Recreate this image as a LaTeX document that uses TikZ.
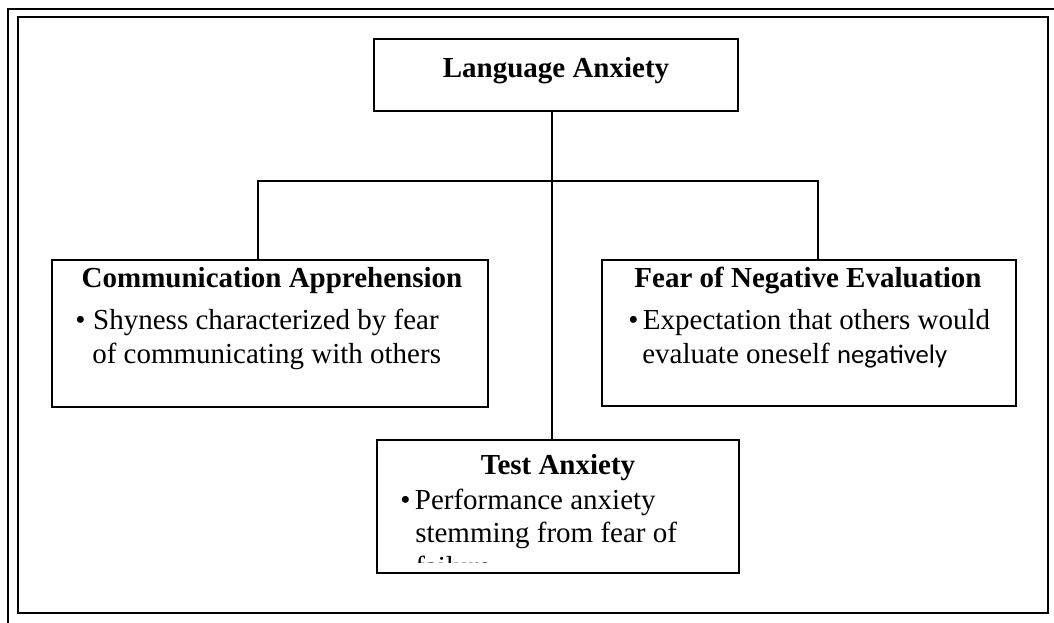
\documentclass[tikz,border=0pt]{standalone}
\usepackage{fontspec}
\setmainfont{Liberation Serif}
\newfontfamily\calib{Carlito}
\begin{document}
\begin{tikzpicture}[x=0.75pt,y=-0.75pt,
  frame/.style={line width=1.2pt,black},
  boxnode/.style={draw,line width=1pt,inner sep=0pt,anchor=center},
  conn/.style={line width=1pt},
  ttl/.style={font=\fontsize{21.75}{26}\selectfont\bfseries,inner sep=0pt,anchor=base},
  body/.style={font=\fontsize{21.75}{26}\selectfont,inner sep=0pt,anchor=base west}]
\useasboundingbox (0,0) rectangle (1054,623);
% outer and inner frames
\draw[frame] (8,623) -- (8,9) -- (1054,9);
\draw[frame] (18,17) rectangle (1048,613);
% boxes
\node[boxnode,minimum width=273pt,minimum height=54pt] (la) at (556,75) {};
\node[boxnode,minimum width=327pt,minimum height=110.25pt] (ca) at (270,333.5) {};
\node[boxnode,minimum width=310.5pt,minimum height=109.5pt] (fne) at (809,333) {};
\node[boxnode,minimum width=271.5pt,minimum height=99.75pt] (ta) at (558,506.5) {};
% connector coordinates
\coordinate (j) at (552,181);
\coordinate (cl) at (258,181);
\coordinate (cr) at (818,181);
\draw[conn] (la.south -| j) -- (ta.north -| j);
\draw[conn] (ca.north -| cl) -- (cl) -- (cr) -- (fne.north -| cr);
% texts
\node[ttl] (lat) at (556,78) {Language Anxiety};
\node[ttl] (cat) at (272,288) {Communication Apprehension};
\node[body] (cab) at (75,330) {\makebox[13.5pt][l]{•}Shyness characterized by fear};
\node[body] (cac) at (92,364) {of communicating with others};
\node[ttl] (fnet) at (808,288) {Fear of Negative Evaluation};
\node[body] (fneb) at (628,330) {\makebox[11pt][l]{•}Expectation that others would};
\node[body] (fnec) at (642,364) {evaluate oneself {\calib\fontsize{20}{24}\selectfont negatively}};
\node[ttl] (tat) at (558,475) {Test Anxiety};
\node[body] (tab) at (400,510) {\makebox[11pt][l]{•}Performance anxiety};
\node[body] (tac) at (415,543) {stemming from fear of};
\begin{scope}
\clip (378,441) rectangle (738,563);
\node[body] (tad) at (415,577) {failure};
\end{scope}
\end{tikzpicture}
\end{document}
